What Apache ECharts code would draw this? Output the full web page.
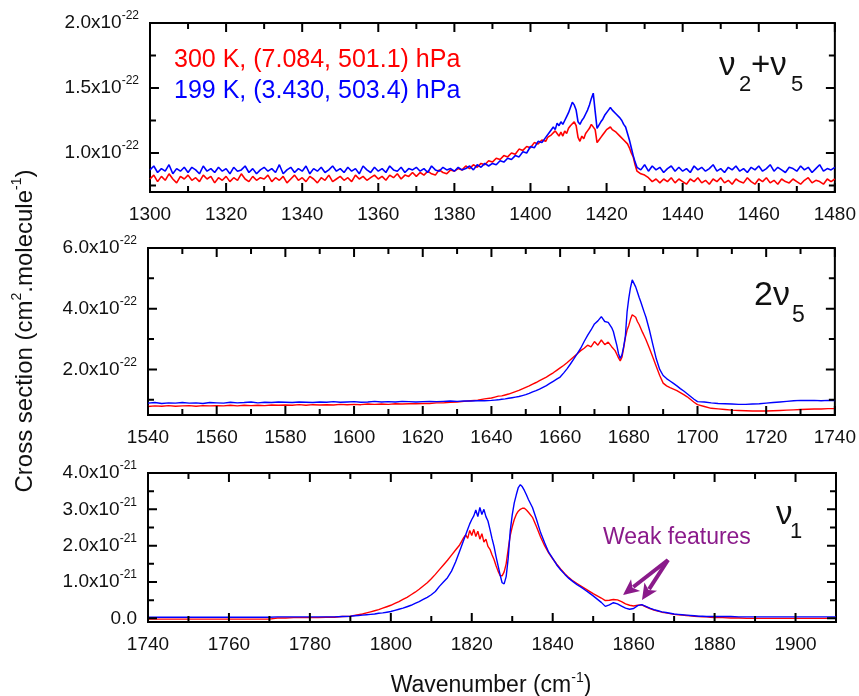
<!DOCTYPE html>
<html><head><meta charset="utf-8">
<script src="https://cdn.jsdelivr.net/npm/echarts@6/dist/echarts.min.js"></script>
<style>html,body{margin:0;padding:0;background:#fff}#c{width:859px;height:696px}</style>
</head><body><div id="c"></div>
<script>
// ---------- Panel 1 : nu2+nu5 band (units 1e-22) ----------
const p1Wavenumber = [
1300,1301,1302,1303,1304,1305,1306,1307,1308,1309,
1310,1311,1312,1313,1314,1315,1316,1317,1318,1319,
1320,1321,1322,1323,1324,1325,1326,1327,1328,1329,
1330,1331,1332,1333,1334,1335,1336,1337,1338,1339,
1340,1341,1342,1343,1344,1345,1346,1347,1348,1349,
1350,1351,1352,1353,1354,1355,1356,1357,1358,1359,
1360,1361,1362,1363,1364,1365,1366,1367,1368,1369,
1370,1371,1372,1373,1374,1375,1376,1377,1378,1379,
1380,1381,1382,1383,1384,1385,1386,1387,1388,1389,
1390,1391,1392,1393,1394,1395,1396,1397,1398,1399,
1400,1401,1402,1403,1404,
1404.5,1405,1405.5,1406,1406.5,1407,1407.5,1408,1408.5,1409,
1409.5,1410,1410.5,1411,1411.5,1412,1412.5,1413,1413.5,1414,
1414.5,1415,1415.5,1416,1416.5,1417,1417.5,1418,1418.5,1419,
1419.5,1420,1420.5,1421,1421.5,1422,1422.5,1423,1423.5,1424,
1424.5,1425,1425.5,1426,1426.5,1427,1427.5,1428,
1429,1430,1431,1432,1433,1434,1435,1436,1437,1438,
1439,1440,1441,1442,1443,1444,1445,1446,1447,1448,
1449,1450,1451,1452,1453,1454,1455,1456,1457,1458,
1459,1460,1461,1462,1463,1464,1465,1466,1467,1468,
1469,1470,1471,1472,1473,1474,1475,1476,1477,1478,
1479,1480];
const p1Red300K = [
0.80,0.83,0.78,0.82,0.79,0.84,0.80,0.77,0.82,0.80,
0.83,0.79,0.81,0.78,0.83,0.80,0.82,0.77,0.81,0.79,
0.82,0.78,0.81,0.79,0.84,0.80,0.78,0.82,0.79,0.81,
0.80,0.83,0.78,0.81,0.79,0.82,0.77,0.80,0.83,0.79,
0.81,0.78,0.82,0.80,0.77,0.81,0.79,0.83,0.78,0.80,
0.82,0.79,0.81,0.78,0.83,0.80,0.82,0.79,0.81,0.83,
0.80,0.82,0.79,0.83,0.81,0.84,0.80,0.83,0.82,0.85,
0.82,0.85,0.83,0.86,0.84,0.83,0.87,0.85,0.84,0.87,
0.86,0.88,0.87,0.90,0.88,0.91,0.89,0.92,0.91,0.94,
0.93,0.96,0.95,0.98,0.97,1.00,0.99,1.03,1.02,1.05,
1.04,1.08,1.07,1.10,1.09,
1.12,1.11,1.14,1.13,1.17,1.15,1.13,1.16,1.13,1.17,
1.15,1.19,1.21,1.20,1.24,1.21,1.12,1.09,1.13,1.11,
1.15,1.17,1.19,1.22,1.23,1.18,1.08,1.10,1.12,1.14,
1.16,1.18,1.17,1.20,1.18,1.19,1.16,1.15,1.13,1.14,
1.10,1.11,1.07,1.04,1.00,0.97,0.91,0.86,
0.84,0.83,0.81,0.78,0.80,0.77,0.80,0.78,0.81,0.77,
0.80,0.78,0.76,0.80,0.78,0.81,0.77,0.79,0.76,0.80,
0.78,0.81,0.77,0.79,0.76,0.80,0.78,0.77,0.81,0.78,
0.76,0.80,0.78,0.81,0.77,0.79,0.76,0.80,0.78,0.77,
0.80,0.78,0.76,0.79,0.81,0.77,0.79,0.78,0.76,0.80,
0.78,0.80];
const p1Blue199K = [
0.87,0.90,0.85,0.88,0.86,0.91,0.84,0.88,0.86,0.89,
0.85,0.89,0.87,0.84,0.90,0.86,0.88,0.85,0.89,0.86,
0.88,0.84,0.89,0.86,0.87,0.90,0.85,0.88,0.84,0.87,
0.89,0.86,0.88,0.85,0.91,0.84,0.87,0.89,0.85,0.88,
0.86,0.90,0.84,0.88,0.86,0.89,0.85,0.87,0.90,0.86,
0.88,0.85,0.89,0.86,0.88,0.84,0.90,0.87,0.85,0.89,
0.86,0.88,0.85,0.90,0.87,0.86,0.89,0.85,0.88,0.87,
0.89,0.86,0.88,0.85,0.90,0.87,0.86,0.89,0.87,0.88,
0.86,0.89,0.87,0.88,0.90,0.87,0.91,0.89,0.92,0.90,
0.92,0.91,0.94,0.93,0.96,0.95,0.98,0.97,1.01,1.00,
1.05,1.04,1.09,1.08,1.12,
1.13,1.16,1.15,1.20,1.18,1.23,1.21,1.24,1.22,1.25,
1.28,1.31,1.35,1.39,1.37,1.33,1.24,1.22,1.25,1.27,
1.30,1.33,1.37,1.42,1.46,1.32,1.19,1.20,1.24,1.26,
1.29,1.30,1.33,1.35,1.33,1.34,1.30,1.29,1.27,1.25,
1.22,1.20,1.15,1.10,1.04,0.98,0.93,0.89,
0.87,0.91,0.86,0.90,0.87,0.89,0.85,0.88,0.90,0.86,
0.89,0.86,0.88,0.85,0.90,0.87,0.89,0.86,0.88,0.91,
0.86,0.88,0.85,0.89,0.87,0.90,0.86,0.88,0.85,0.89,
0.87,0.90,0.86,0.88,0.91,0.86,0.89,0.87,0.85,0.89,
0.88,0.86,0.90,0.87,0.89,0.85,0.88,0.91,0.86,0.88,
0.87,0.89];
const p1XMajor = [1300,1320,1340,1360,1380,1400,1420,1440,1460,1480];
const p1XMinor = [1310,1330,1350,1370,1390,1410,1430,1450,1470];
const p1YMajor = [1.0,1.5,2.0];
const p1YMinor = [0.75,1.25,1.75];

// ---------- Panel 2 : 2nu5 band (units 1e-22) ----------
const p2Wavenumber = [
1540,1542,1544,1546,1548,1550,1552,1554,1556,1558,
1560,1562,1564,1566,1568,1570,1572,1574,1576,1578,
1580,1582,1584,1586,1588,1590,1592,1594,1596,1598,
1600,1602,1604,1606,1608,1610,1612,1614,1616,1618,
1620,1622,1624,1626,1628,1630,1632,1634,1636,1638,
1640,1641,1642,1643,1644,1645,1646,1647,1648,1649,
1650,1651,1652,1653,1654,1655,1656,1657,1658,1659,
1660,1661,1662,1663,1664,1665,1666,1667,1668,1669,
1670,1671,1672,1673,1674,1675,
1675.5,1676,1676.5,1677,1677.5,1678,1678.5,1679,1679.5,1680,
1680.5,1681,1681.5,1682,1682.5,1683,1683.5,1684,1684.5,1685,
1686,1687,1688,1689,1690,1691,1692,1693,1694,1695,
1696,1697,1698,1699,1700,
1702,1704,1706,1708,1710,1712,1714,1716,1718,1720,
1722,1724,1726,1728,1730,1732,1734,1736,1738,1740];
const p2Red300K = [
0.78,0.80,0.79,0.81,0.79,0.80,0.81,0.79,0.81,0.80,
0.81,0.80,0.82,0.80,0.82,0.81,0.82,0.81,0.83,0.82,
0.83,0.82,0.84,0.82,0.84,0.83,0.84,0.83,0.85,0.84,
0.85,0.84,0.86,0.85,0.86,0.85,0.87,0.86,0.87,0.87,
0.88,0.88,0.90,0.90,0.92,0.93,0.95,0.97,0.99,1.03,
1.06,1.09,1.12,1.13,1.16,1.19,1.23,1.27,1.31,1.36,
1.41,1.46,1.52,1.57,1.63,1.69,1.75,1.82,1.89,1.97,
2.05,2.13,2.22,2.32,2.42,2.52,2.62,2.70,2.80,2.74,
2.92,2.80,2.97,2.82,2.90,2.75,
2.80,2.62,2.50,2.38,2.28,2.40,2.70,3.05,3.30,3.45,
3.65,3.80,3.85,3.72,3.58,3.48,3.35,3.22,3.10,2.98,
2.70,2.40,2.10,1.80,1.55,1.46,1.40,1.35,1.30,1.24,
1.17,1.10,1.01,0.92,0.84,
0.78,0.72,0.70,0.68,0.66,0.65,0.64,0.63,0.63,0.63,
0.64,0.65,0.66,0.67,0.68,0.69,0.70,0.70,0.71,0.71];
const p2Blue199K = [
0.89,0.91,0.88,0.90,0.89,0.91,0.89,0.90,0.88,0.91,
0.90,0.89,0.92,0.90,0.91,0.93,0.90,0.92,0.91,0.93,
0.92,0.91,0.93,0.92,0.91,0.93,0.92,0.94,0.92,0.93,
0.94,0.92,0.93,0.95,0.93,0.94,0.93,0.95,0.94,0.93,
0.94,0.95,0.94,0.95,0.96,0.95,0.96,0.96,0.97,0.97,
0.98,0.99,1.00,1.02,1.03,1.05,1.07,1.09,1.11,1.14,
1.17,1.21,1.26,1.30,1.35,1.41,1.47,1.54,1.61,1.68,
1.75,1.88,2.02,2.18,2.35,2.52,2.70,2.92,3.12,3.30,
3.50,3.60,3.74,3.58,3.55,3.38,
3.25,3.02,2.80,2.52,2.36,2.48,2.75,3.10,3.90,4.35,
4.70,4.95,4.98,4.72,4.55,4.38,4.22,4.05,3.88,3.72,
3.30,2.82,2.35,2.00,1.80,1.70,1.62,1.54,1.46,1.37,
1.29,1.20,1.11,1.02,0.94,
0.93,0.90,0.88,0.87,0.86,0.85,0.85,0.86,0.87,0.89,
0.91,0.93,0.95,0.97,0.98,0.98,0.98,0.97,0.98,0.98];
const p2XMajor = [1540,1560,1580,1600,1620,1640,1660,1680,1700,1720,1740];
const p2XMinor = [1550,1570,1590,1610,1630,1650,1670,1690,1710,1730];
const p2YMajor = [2.0,4.0,6.0];
const p2YMinor = [1.0,3.0,5.0];

// ---------- Panel 3 : nu1 band (units 1e-21) ----------
const p3Wavenumber = [
1740,1742,1744,1746,1748,1750,1752,1754,1756,1758,
1760,1762,1764,1766,1768,1770,1772,1774,1776,1778,
1780,1782,1784,1786,1788,1790,
1791,1792,1793,1794,1795,1796,1797,1798,1799,1800,
1801,1802,1803,1804,1805,1806,1807,1808,1809,1810,
1811,1812,1813,1814,1815,1816,1817,
1817.5,1818,1818.5,1819,1819.5,1820,1820.5,1821,1821.5,1822,
1822.5,1823,1823.5,1824,1824.5,1825,1825.5,1826,1826.5,1827,
1827.5,1828,1828.5,1829,1829.5,1830,1830.5,1831,1831.5,1832,
1832.5,1833,1833.5,1834,
1835,1836,1837,1838,1839,1840,1841,1842,1843,1844,
1845,1846,1847,1848,1849,1850,1851,1852,1853,1854,
1855,1856,1857,1858,1859,1860,1861,1862,1863,1864,
1865,1866,1867,1868,1869,1870,1871,1872,1873,1874,
1875,1876,1877,1878,1879,1880,
1882,1884,1886,1888,1890,1892,1894,1896,1898,1900,
1902,1904,1906,1908,1910];
const p3Red300K = [
-0.02,-0.02,-0.02,-0.02,-0.02,-0.02,-0.02,-0.02,-0.02,-0.02,
-0.02,-0.02,-0.02,-0.02,-0.02,-0.02,0.01,0.01,0.02,0.02,
0.02,0.02,0.03,0.03,0.05,0.06,
0.08,0.10,0.12,0.15,0.18,0.21,0.24,0.28,0.32,0.36,
0.41,0.46,0.52,0.58,0.65,0.72,0.80,0.89,0.98,1.09,
1.21,1.34,1.47,1.60,1.74,1.88,2.02,
2.12,2.22,2.30,2.20,2.42,2.28,2.45,2.25,2.40,2.18,
2.33,2.10,2.18,1.98,1.90,1.75,1.62,1.45,1.30,1.18,
1.17,1.28,1.50,1.90,2.28,2.52,2.72,2.86,2.95,3.00,
3.03,3.03,2.98,2.92,
2.78,2.52,2.24,2.00,1.80,1.64,1.49,1.35,1.23,1.12,
1.03,0.96,0.89,0.82,0.75,0.68,0.62,0.56,0.49,0.50,
0.52,0.51,0.46,0.40,0.36,0.34,0.36,0.37,0.32,0.27,
0.23,0.20,0.17,0.15,0.13,0.11,0.10,0.09,0.08,0.07,
0.06,0.05,0.04,0.04,0.03,0.02,
0.02,0.01,0.01,0.00,0.00,0.00,0.00,0.00,0.00,0.00,
0.00,0.00,0.00,0.00,0.00];
const p3Blue199K = [
0.03,0.03,0.03,0.03,0.03,0.03,0.03,0.03,0.03,0.03,
0.03,0.03,0.03,0.03,0.03,0.03,0.04,0.04,0.04,0.04,
0.04,0.04,0.04,0.04,0.05,0.06,
0.07,0.08,0.09,0.10,0.11,0.12,0.14,0.15,0.17,0.19,
0.22,0.25,0.28,0.32,0.36,0.41,0.46,0.52,0.58,0.65,
0.74,0.88,1.00,1.12,1.30,1.55,1.85,
2.00,2.15,2.30,2.45,2.60,2.72,2.82,2.98,2.80,3.05,
2.86,3.00,2.80,2.68,2.45,2.20,1.98,1.70,1.45,1.20,
0.98,0.95,1.15,1.65,2.40,2.85,3.18,3.40,3.60,3.68,
3.62,3.52,3.40,3.27,
3.05,2.72,2.36,2.08,1.82,1.65,1.47,1.33,1.21,1.10,
1.01,0.93,0.86,0.78,0.70,0.62,0.53,0.44,0.33,0.37,
0.43,0.40,0.34,0.28,0.25,0.27,0.35,0.38,0.33,0.28,
0.24,0.21,0.18,0.16,0.14,0.12,0.11,0.10,0.09,0.08,
0.07,0.06,0.06,0.05,0.05,0.05,
0.05,0.05,0.04,0.04,0.04,0.04,0.04,0.04,0.04,0.04,
0.04,0.04,0.04,0.04,0.04];
const p3XMajor = [1740,1760,1780,1800,1820,1840,1860,1880,1900];
const p3XMinor = [1750,1770,1790,1810,1830,1850,1870,1890];
const p3YMajor = [0,1.0,2.0,3.0,4.0];
const p3YMinor = [0.5,1.5,2.5,3.5];

// ---------- texts ----------
const legendRed = '300 K, (7.084, 501.1) hPa';
const legendBlue = '199 K, (3.430, 503.4) hPa';
const xTitle = 'Wavenumber (cm';
const yTitleA = 'Cross section (cm';
const yTitleB = '.molecule';
const weakLabel = 'Weak features';

const FONT = '"Liberation Sans", Arial, Helvetica, sans-serif';
const RED = '#ff0000', BLUE = '#0000ff', PURPLE = '#8a1a8a', INK = '#111111';
const MAJOR_LEN = 9, MINOR_LEN = 6;   // tick lengths in pixels

const panels = [
  {grid:{left:150, top:23, width:687, height:169}, xMin:1300, xMax:1480, yMin:0.7, yMax:2.0, exp:'-22', lw:1.6,
   xMajor:p1XMajor, xMinor:p1XMinor, yMajor:p1YMajor, yMinor:p1YMinor, x:p1Wavenumber, red:p1Red300K, blue:p1Blue199K},
  {grid:{left:148, top:248, width:687, height:167}, xMin:1540, xMax:1740, yMin:0.5, yMax:6.0, exp:'-22', lw:1.4,
   xMajor:p2XMajor, xMinor:p2XMinor, yMajor:p2YMajor, yMinor:p2YMinor, x:p2Wavenumber, red:p2Red300K, blue:p2Blue199K},
  {grid:{left:148, top:473, width:688, height:149}, xMin:1740, xMax:1910, yMin:-0.1, yMax:4.0, exp:'-21', lw:1.4,
   xMajor:p3XMajor, xMinor:p3XMinor, yMajor:p3YMajor, yMinor:p3YMinor, x:p3Wavenumber, red:p3Red300K, blue:p3Blue199K}
];

const grids = [], xAxes = [], yAxes = [], series = [];
panels.forEach((p, gi) => {
  grids.push(Object.assign({show:true, borderColor:'#000', borderWidth:2, backgroundColor:'transparent', containLabel:false}, p.grid));
  xAxes.push({
    type:'value', gridIndex:gi, position:'bottom', min:p.xMin, max:p.xMax,
    splitLine:{show:false}, axisTick:{show:false},
    axisLine:{show:true, onZero:false, lineStyle:{color:'#000', width:2}},
    axisLabel:{show:true, customValues:p.xMajor, fontSize:19, fontFamily:FONT, color:INK, margin:13,
      formatter: v => String(v)}
  });
  yAxes.push({
    type:'value', gridIndex:gi, position:'left', min:p.yMin, max:p.yMax,
    splitLine:{show:false}, axisTick:{show:false},
    axisLine:{show:true, onZero:false, lineStyle:{color:'#000', width:2}},
    axisLabel:{
      show:true, customValues:p.yMajor, margin:11,
      formatter: v => (Math.abs(v) < 1e-9) ? '{m|0.0}' : '{m|' + v.toFixed(1) + 'x10}{s|' + p.exp + '}',
      rich:{
        m:{fontSize:19, fontFamily:FONT, color:INK, lineHeight:26},
        s:{fontSize:12, fontFamily:FONT, color:INK, lineHeight:13, verticalAlign:'top'}
      }
    }
  });
  const mk = (name, vals, color) => ({
    name:name, type:'line', xAxisIndex:gi, yAxisIndex:gi, showSymbol:false, symbol:'none',
    animation:false, silent:true, z:3,
    lineStyle:{color:color, width:p.lw}, itemStyle:{color:color},
    data:p.x.map((x, i) => [x, vals[i]])
  });
  series.push(mk('300 K', p.red, RED));
  series.push(mk('199 K', p.blue, BLUE));

  // inward tick marks on all four sides, drawn as broken line segments through the panel's own axes
  const dY = len => len * (p.yMax - p.yMin) / p.grid.height;   // pixel length -> y data units
  const dX = len => len * (p.xMax - p.xMin) / p.grid.width;    // pixel length -> x data units
  const tickPts = [];
  const addX = (v, len) => {
    tickPts.push([v, p.yMin], [v, p.yMin + dY(len)], [v, '-']);
    tickPts.push([v, p.yMax], [v, p.yMax - dY(len)], [v, '-']);
  };
  const addY = (v, len) => {
    tickPts.push([p.xMin, v], [p.xMin + dX(len), v], [p.xMin, '-']);
    tickPts.push([p.xMax, v], [p.xMax - dX(len), v], [p.xMax, '-']);
  };
  p.xMajor.forEach(v => addX(v, MAJOR_LEN));
  p.xMinor.forEach(v => addX(v, MINOR_LEN));
  p.yMajor.forEach(v => addY(v, MAJOR_LEN));
  p.yMinor.forEach(v => addY(v, MINOR_LEN));
  series.push({
    name:'ticks', type:'line', xAxisIndex:gi, yAxisIndex:gi, showSymbol:false, symbol:'none',
    connectNulls:false, animation:false, silent:true, z:5, clip:false,
    lineStyle:{color:'#000000', width:2}, itemStyle:{color:'#000000'},
    data:tickPts
  });
});

function txt(x, y, text, size, color) {
  return {type:'text', x:x, y:y,
    style:{text:text, fontSize:size, fontFamily:FONT, fill:color,
      align:'left', verticalAlign:'middle', textAlign:'left', textVerticalAlign:'middle'}};
}
function arrow(x1, y1, x2, y2) {
  const dx = x2 - x1, dy = y2 - y1, L = Math.hypot(dx, dy), ux = dx / L, uy = dy / L;
  const hl = 16, hw = 7.5, bx = x2 - ux * hl, by = y2 - uy * hl;
  return [
    {type:'polyline', shape:{points:[[x1, y1], [bx + ux * 3, by + uy * 3]]},
     style:{stroke:PURPLE, lineWidth:4, fill:null}},
    {type:'polygon',
     shape:{points:[[x2, y2], [bx - uy * hw, by + ux * hw], [bx + ux * 4, by + uy * 4], [bx + uy * hw, by - ux * hw]]},
     style:{fill:PURPLE}}
  ];
}

const richTitle = {
  m:{fontSize:23, fontFamily:FONT, fill:INK, color:INK, lineHeight:30},
  s:{fontSize:14, fontFamily:FONT, fill:INK, color:INK, lineHeight:14, verticalAlign:'top'}
};
const richY = {
  m:{fontSize:24, fontFamily:FONT, fill:INK, color:INK, lineHeight:30},
  s:{fontSize:14, fontFamily:FONT, fill:INK, color:INK, lineHeight:14, verticalAlign:'top'}
};

const graphic = [
  txt(174, 60, legendRed, 25, RED),
  txt(174, 91, legendBlue, 25, BLUE),
  txt(719, 66, 'ν', 33, INK),
  txt(739, 85, '2', 22, INK),
  txt(751, 66, '+ν', 33, INK),
  txt(791, 85, '5', 22, INK),
  txt(754, 296, '2ν', 34, INK),
  txt(792, 316, '5', 23, INK),
  txt(776, 515, 'ν', 33, INK),
  txt(790, 532, '1', 22, INK),
  txt(603, 538, weakLabel, 23, PURPLE),
  ...arrow(668, 560, 623, 595),
  ...arrow(668, 560, 642, 600),
  {type:'text', x:491, y:686,
   style:{text:'{m|' + xTitle + '}{s|-1}{m|)}', rich:richTitle, fill:INK,
     align:'center', verticalAlign:'middle', textAlign:'center', textVerticalAlign:'middle'}},
  {type:'text', x:25, y:331, rotation:Math.PI / 2,
   style:{text:'{m|' + yTitleA + '}{s|2}{m|' + yTitleB + '}{s|-1}{m|)}', rich:richY, fill:INK,
     align:'center', verticalAlign:'middle', textAlign:'center', textVerticalAlign:'middle'}}
];

const chart = echarts.init(document.getElementById('c'), null, {renderer:'canvas'});
chart.setOption({
  backgroundColor:'#ffffff',
  animation:false,
  grid:grids, xAxis:xAxes, yAxis:yAxes, series:series, graphic:graphic
});
</script></body></html>
